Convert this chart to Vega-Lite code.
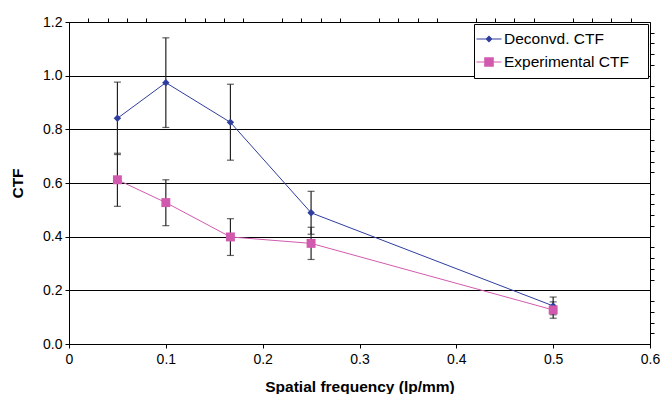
{
  "$schema": "https://vega.github.io/schema/vega-lite/v6.json",
  "width": 581,
  "height": 322,
  "autosize": {"type": "none"},
  "padding": {"left": 69, "top": 22, "right": 13, "bottom": 50},
  "background": "white",
  "config": {
    "view": {"stroke": "black", "strokeWidth": 1},
    "font": "Liberation Sans",
    "axis": {
      "domainColor": "black",
      "tickColor": "black",
      "labelColor": "black",
      "titleColor": "black",
      "labelFont": "Liberation Sans",
      "titleFont": "Liberation Sans",
      "labelFontSize": 14,
      "tickSize": 4,
      "gridColor": "black",
      "gridOpacity": 1,
      "gridWidth": 1
    }
  },
  "data": {
    "values": [
      {"series": "Deconvd. CTF", "x": 0.05, "y": 0.841, "lo": 0.706, "hi": 0.976},
      {"series": "Deconvd. CTF", "x": 0.1, "y": 0.974, "lo": 0.807, "hi": 1.141},
      {"series": "Deconvd. CTF", "x": 0.1667, "y": 0.826, "lo": 0.685, "hi": 0.968},
      {"series": "Deconvd. CTF", "x": 0.25, "y": 0.489, "lo": 0.409, "hi": 0.569},
      {"series": "Deconvd. CTF", "x": 0.5, "y": 0.142, "lo": 0.109, "hi": 0.175},
      {"series": "Experimental CTF", "x": 0.05, "y": 0.612, "lo": 0.513, "hi": 0.711},
      {"series": "Experimental CTF", "x": 0.1, "y": 0.527, "lo": 0.441, "hi": 0.612},
      {"series": "Experimental CTF", "x": 0.1667, "y": 0.399, "lo": 0.33, "hi": 0.467},
      {"series": "Experimental CTF", "x": 0.25, "y": 0.375, "lo": 0.315, "hi": 0.435},
      {"series": "Experimental CTF", "x": 0.5, "y": 0.127, "lo": 0.096, "hi": 0.157}
    ]
  },
  "layer": [
    {
      "mark": {"type": "line", "strokeWidth": 1},
      "encoding": {
        "x": {
          "field": "x", "type": "quantitative",
          "scale": {"domain": [0, 0.6], "nice": false, "zero": false},
          "axis": {
            "values": [0, 0.1, 0.2, 0.3, 0.4, 0.5, 0.6],
            "labelExpr": "datum.value == 0 ? '0' : format(datum.value, '.1f')",
            "grid": false,
            "labelPadding": 4,
            "labelFlush": false,
            "title": "Spatial frequency (lp/mm)",
            "titleFontSize": 15.5,
            "titleFontWeight": "bold",
            "titleY": 47,
            "titleBaseline": "alphabetic"
          }
        },
        "y": {
          "field": "y", "type": "quantitative",
          "scale": {"domain": [0, 1.2], "nice": false},
          "axis": {
            "values": [0, 0.2, 0.4, 0.6, 0.8, 1.0, 1.2],
            "format": ".1f",
            "grid": true,
            "labelPadding": 3,
            "labelFlush": false,
            "title": "CTF",
            "titleFontSize": 15.5,
            "titleFontWeight": "bold",
            "titleAngle": 270,
            "titleX": -52,
            "titleY": 161,
            "titleAlign": "center",
            "titleBaseline": "middle"
          }
        },
        "color": {
          "field": "series", "type": "nominal",
          "scale": {"domain": ["Deconvd. CTF", "Experimental CTF"], "range": ["#2F3D9E", "#D25AAE"]},
          "legend": {
            "title": null,
            "orient": "top-right",
            "offset": 2,
            "fillColor": "white",
            "strokeColor": "black",
            "padding": 7,
            "labelFont": "Liberation Sans",
            "labelFontSize": 15.5,
            "labelColor": "black",
            "labelExpr": "datum.label + '\u2800'",
            "symbolSize": 256,
            "rowPadding": 6,
            "labelOffset": 7,
            "encode": {
              "symbols": {
                "update": {
                  "shape": {"signal": "datum.value == 'Deconvd. CTF' ? 'M-2,0L-2,0.001ZM-1.5625,-0.07H1.5625V0.07H-1.5625ZM0,-0.44L0.44,0L0,0.44L-0.44,0Z' : 'M-2,0L-2,0.001ZM-1.5625,-0.07H1.5625V0.07H-1.5625ZM-0.6,-0.6H0.6V0.6H-0.6Z'"},
                  "fill": {"scale": "color", "field": "value"},
                  "size": {"value": 256},
                  "strokeWidth": {"value": 0},
                  "opacity": {"value": 1},
                  "fillOpacity": {"value": 1}
                }
              }
            }
          }
        }
      }
    },
    {
      "mark": {"type": "errorbar", "color": "#222222", "thickness": 1.2, "ticks": {"size": 7, "thickness": 1.2}},
      "encoding": {
        "x": {"field": "x", "type": "quantitative", "axis": null},
        "y": {"field": "lo", "type": "quantitative", "axis": null},
        "y2": {"field": "hi"},
        "detail": {"field": "series", "type": "nominal"}
      }
    },
    {
      "mark": {"type": "point", "filled": true, "opacity": 1},
      "encoding": {
        "x": {
          "field": "x", "type": "quantitative",
          "axis": {
            "values": [0.02, 0.04, 0.06, 0.08, 0.12, 0.14, 0.16, 0.18, 0.22, 0.24, 0.26, 0.28, 0.32, 0.34, 0.36, 0.38, 0.42, 0.44, 0.46, 0.48, 0.52, 0.54, 0.56, 0.58],
            "labels": false, "domain": false, "grid": false, "title": null
          }
        },
        "y": {
          "field": "y", "type": "quantitative",
          "axis": {
            "values": [0.04, 0.08, 0.12, 0.16, 0.24, 0.28, 0.32, 0.36, 0.44, 0.48, 0.52, 0.56, 0.64, 0.68, 0.72, 0.76, 0.84, 0.88, 0.92, 0.96, 1.04, 1.08, 1.12, 1.16],
            "labels": false, "domain": false, "grid": false, "title": null
          }
        },
        "color": {"field": "series", "type": "nominal", "legend": null},
        "shape": {
          "field": "series", "type": "nominal",
          "scale": {"domain": ["Deconvd. CTF", "Experimental CTF"], "range": ["diamond", "square"]},
          "legend": null
        },
        "size": {
          "field": "series", "type": "nominal",
          "scale": {"domain": ["Deconvd. CTF", "Experimental CTF"], "range": [55, 80]},
          "legend": null
        }
      }
    }
  ],
  "resolve": {
    "axis": {"x": "independent", "y": "independent"},
    "legend": {"color": "independent", "shape": "independent", "size": "independent"}
  }
}
